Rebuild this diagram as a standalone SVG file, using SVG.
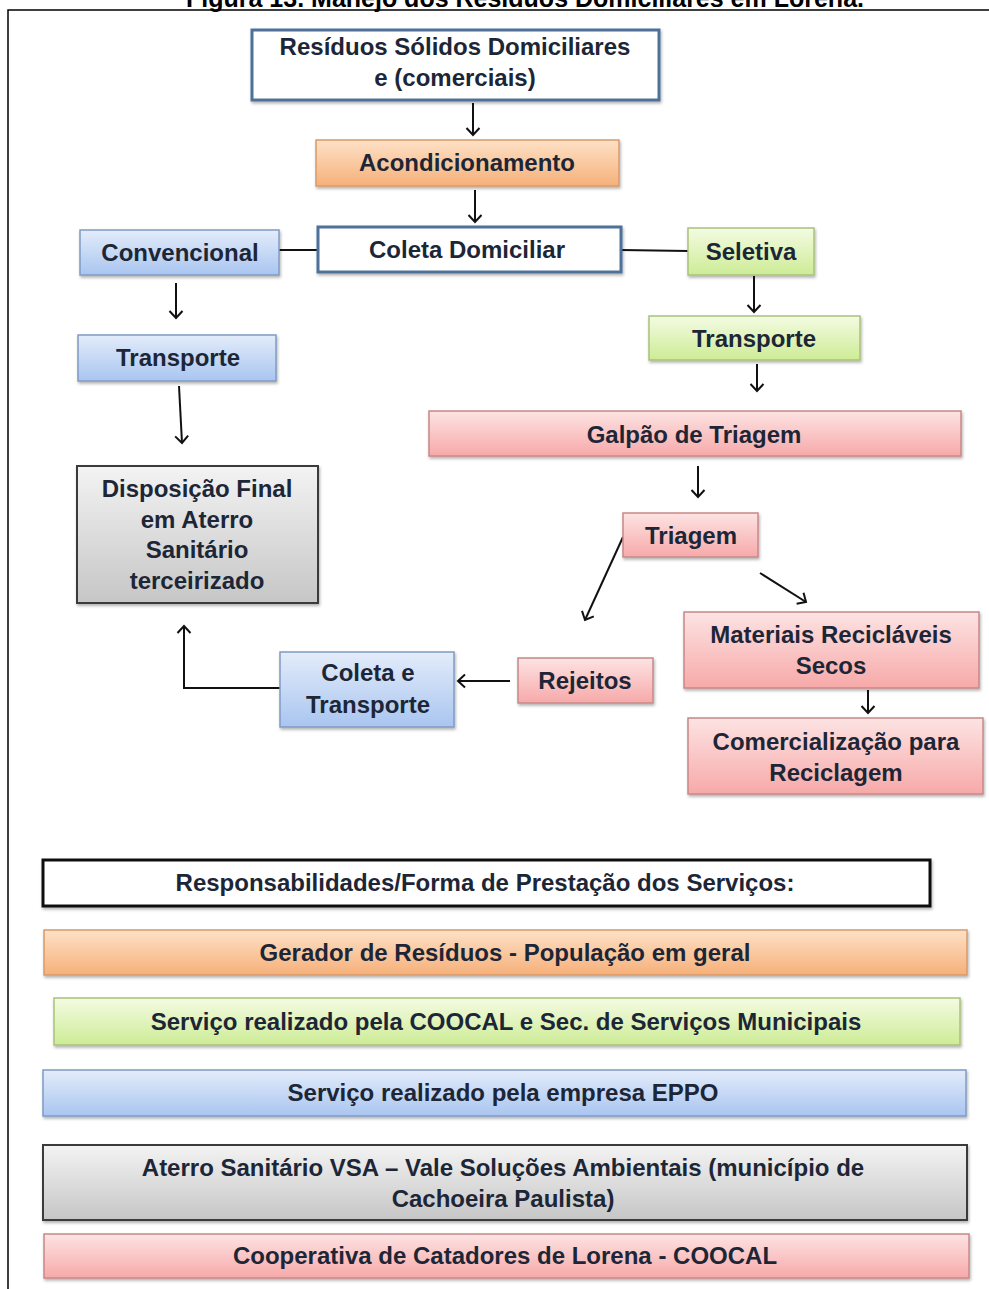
<svg xmlns="http://www.w3.org/2000/svg" width="989" height="1289" viewBox="0 0 989 1289">
<defs>
<linearGradient id="gOr" x1="0" y1="0" x2="0" y2="1"><stop offset="0" stop-color="#fde1c6"/><stop offset="1" stop-color="#f6b07a"/></linearGradient>
<linearGradient id="gBl" x1="0" y1="0" x2="0" y2="1"><stop offset="0" stop-color="#e3ecfa"/><stop offset="1" stop-color="#a9c5f0"/></linearGradient>
<linearGradient id="gGr" x1="0" y1="0" x2="0" y2="1"><stop offset="0" stop-color="#f4fbe3"/><stop offset="1" stop-color="#cdec95"/></linearGradient>
<linearGradient id="gRd" x1="0" y1="0" x2="0" y2="1"><stop offset="0" stop-color="#fde3e3"/><stop offset="1" stop-color="#f7a9a9"/></linearGradient>
<linearGradient id="gGy" x1="0" y1="0" x2="0" y2="1"><stop offset="0" stop-color="#f3f3f3"/><stop offset="1" stop-color="#c6c6c6"/></linearGradient>
<filter id="sh" x="-5%" y="-10%" width="110%" height="130%"><feDropShadow dx="1" dy="2" stdDeviation="1.5" flood-color="#000" flood-opacity="0.3"/></filter>
<marker id="ah" markerUnits="userSpaceOnUse" markerWidth="16" markerHeight="16" refX="9" refY="8" orient="auto"><path d="M2,1.5 L9,8 L2,14.5" fill="none" stroke="#111" stroke-width="2"/></marker>
</defs>
<style>
.t{font-family:"Liberation Sans",Arial,sans-serif;font-weight:bold;font-size:24px;fill:#1d2636;text-anchor:middle}
.l{font-family:"Liberation Sans",Arial,sans-serif;font-weight:bold;font-size:24px;fill:#1d2636;text-anchor:middle}
.or{fill:url(#gOr);stroke:#d89a6a;stroke-width:1.5;filter:url(#sh)}
.bl{fill:url(#gBl);stroke:#7f9bc4;stroke-width:1.5;filter:url(#sh)}
.gr{fill:url(#gGr);stroke:#a9c27a;stroke-width:1.5;filter:url(#sh)}
.rd{fill:url(#gRd);stroke:#c88888;stroke-width:1.5;filter:url(#sh)}
.gy{fill:url(#gGy);stroke:#3a3a3a;stroke-width:2;filter:url(#sh)}
.wb{fill:#fff;stroke:#4d7199;stroke-width:3;filter:url(#sh)}
.wk{fill:#fff;stroke:#111;stroke-width:3;filter:url(#sh)}
.c{fill:none;stroke:#111;stroke-width:2}
</style>
<rect x="0" y="0" width="989" height="1289" fill="#fff"/>
<text x="525" y="7" style="font-family:'Liberation Sans',Arial,sans-serif;font-weight:bold;font-size:25px;fill:#000;text-anchor:middle">Figura 13. Manejo dos  Resíduos Domiciliares em Lorena.</text>
<path d="M8,1289 V10 H989" fill="none" stroke="#000" stroke-width="1.5"/>

<g id="connectors">
<line class="c" x1="473" y1="103" x2="473" y2="135" marker-end="url(#ah)"/>
<line class="c" x1="475" y1="190" x2="475" y2="222" marker-end="url(#ah)"/>
<line class="c" x1="279" y1="250" x2="318" y2="250"/>
<line class="c" x1="621" y1="250" x2="688" y2="251"/>
<line class="c" x1="176" y1="283" x2="176" y2="318" marker-end="url(#ah)"/>
<line class="c" x1="754" y1="276" x2="754" y2="312" marker-end="url(#ah)"/>
<line class="c" x1="757" y1="364" x2="757" y2="391" marker-end="url(#ah)"/>
<line class="c" x1="179" y1="386" x2="182" y2="443" marker-end="url(#ah)"/>
<line class="c" x1="698" y1="466" x2="698" y2="497" marker-end="url(#ah)"/>
<line class="c" x1="623" y1="537" x2="585" y2="620" marker-end="url(#ah)"/>
<line class="c" x1="760" y1="573" x2="806" y2="602" marker-end="url(#ah)"/>
<line class="c" x1="510" y1="681" x2="458" y2="681" marker-end="url(#ah)"/>
<path class="c" d="M280,688 H184 V626" marker-end="url(#ah)"/>
<line class="c" x1="868" y1="690" x2="868" y2="713" marker-end="url(#ah)"/>
</g>

<g id="n-residuos"><rect class="wb" x="252" y="30" width="407" height="70"/><text class="t" x="455" y="55">Resíduos Sólidos Domiciliares</text><text class="t" x="455" y="86">e (comerciais)</text></g>
<g id="n-acond"><rect class="or" x="316" y="140" width="303" height="46"/><text class="t" x="467" y="171">Acondicionamento</text></g>
<g id="n-coleta"><rect class="wb" x="318" y="227" width="303" height="45"/><text class="t" x="467" y="258">Coleta Domiciliar</text></g>
<g id="n-conv"><rect class="bl" x="80" y="230" width="199" height="45"/><text class="t" x="180" y="261">Convencional</text></g>
<g id="n-seletiva"><rect class="gr" x="688" y="228" width="126" height="47"/><text class="t" x="751" y="260">Seletiva</text></g>
<g id="n-transp-g"><rect class="gr" x="649" y="316" width="211" height="44"/><text class="t" x="754" y="347">Transporte</text></g>
<g id="n-transp-b"><rect class="bl" x="78" y="335" width="198" height="46"/><text class="t" x="178" y="366">Transporte</text></g>
<g id="n-galpao"><rect class="rd" x="429" y="411" width="532" height="45"/><text class="t" x="694" y="443">Galpão de Triagem</text></g>
<g id="n-triagem"><rect class="rd" x="623" y="513" width="135" height="44"/><text class="t" x="691" y="544">Triagem</text></g>
<g id="n-disp"><rect class="gy" x="77" y="466" width="241" height="137"/><text class="t" x="197" y="497">Disposição Final</text><text class="t" x="197" y="528">em  Aterro</text><text class="t" x="197" y="558">Sanitário</text><text class="t" x="197" y="589">terceirizado</text></g>
<g id="n-rejeitos"><rect class="rd" x="518" y="658" width="135" height="45"/><text class="t" x="585" y="689">Rejeitos</text></g>
<g id="n-coletatr"><rect class="bl" x="280" y="652" width="174" height="75"/><text class="t" x="368" y="681">Coleta e</text><text class="t" x="368" y="713">Transporte</text></g>
<g id="n-materiais"><rect class="rd" x="684" y="612" width="295" height="76"/><text class="t" x="831" y="643">Materiais Recicláveis</text><text class="t" x="831" y="674">Secos</text></g>
<g id="n-comerc"><rect class="rd" x="688" y="718" width="295" height="76"/><text class="t" x="836" y="750">Comercialização para</text><text class="t" x="836" y="781">Reciclagem</text></g>

<g id="legend-title"><rect class="wk" x="43" y="860" width="887" height="46"/><text class="l" x="485" y="891">Responsabilidades/Forma de Prestação dos Serviços:</text></g>
<g id="legend-gerador"><rect class="or" x="44" y="930" width="923" height="45"/><text class="l" x="505" y="961">Gerador de Resíduos -  População em geral</text></g>
<g id="legend-coocal"><rect class="gr" x="54" y="998" width="906" height="47"/><text class="l" x="506" y="1030">Serviço realizado pela COOCAL e Sec. de Serviços Municipais</text></g>
<g id="legend-eppo"><rect class="bl" x="43" y="1070" width="923" height="46"/><text class="l" x="503" y="1101">Serviço realizado pela empresa EPPO</text></g>
<g id="legend-aterro"><rect class="gy" x="43" y="1145" width="924" height="75"/><text class="l" x="503" y="1176">Aterro Sanitário VSA – Vale Soluções Ambientais (município de</text><text class="l" x="503" y="1207">Cachoeira Paulista)</text></g>
<g id="legend-coop"><rect class="rd" x="44" y="1234" width="925" height="44"/><text class="l" x="505" y="1264">Cooperativa de Catadores de Lorena - COOCAL</text></g>
</svg>
